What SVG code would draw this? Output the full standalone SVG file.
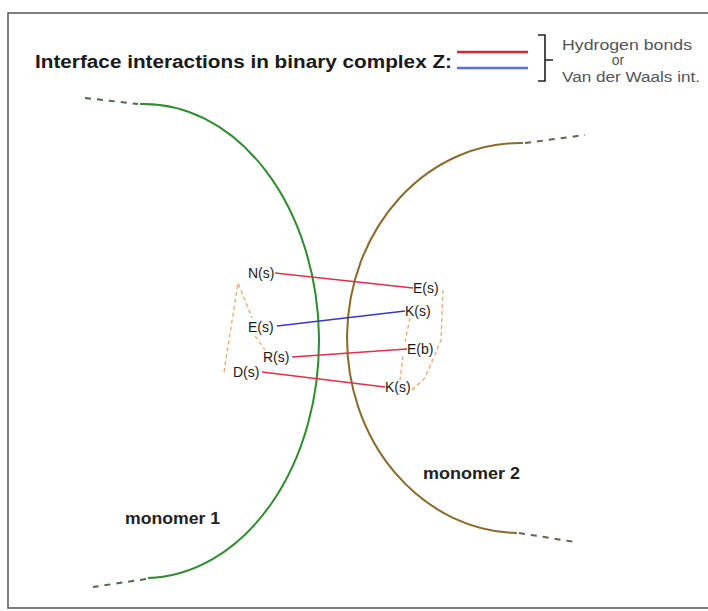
<svg xmlns="http://www.w3.org/2000/svg" width="708" height="611" viewBox="0 0 708 611">
<defs>
<style>
.title{font-family:"Liberation Sans",Arial,sans-serif;font-weight:bold;font-size:18px;fill:#1a1a1a}
.leg{font-family:"Liberation Sans",Arial,sans-serif;font-size:14px;fill:#555}
.lbl{font-family:"Liberation Sans",Arial,sans-serif;font-size:14px;fill:#1a1a1a}
.mono{font-family:"Liberation Sans",Arial,sans-serif;font-weight:bold;font-size:17px;fill:#222}
.m1{fill:none;stroke:#2e8b2e;stroke-width:2}
.m2{fill:none;stroke:#8b6a2a;stroke-width:2}
.m1d{fill:none;stroke:#4a6a4a;stroke-width:2;stroke-dasharray:6,6}
.m2d{fill:none;stroke:#6a6050;stroke-width:2;stroke-dasharray:6,6}
.hb{stroke:#e03048;stroke-width:1.6;fill:none}
.vdw{stroke:#3838c8;stroke-width:1.6;fill:none}
.ctc{stroke:#f0a060;stroke-width:1.2;stroke-dasharray:4,3;fill:none}
</style>
</defs>
<rect x="0" y="0" width="708" height="611" fill="#fff"/>
<rect x="8" y="13" width="720" height="595" fill="none" stroke="#555" stroke-width="1.5"/>

<g id="legend">
<text class="title" x="35" y="68" textLength="417" lengthAdjust="spacingAndGlyphs">Interface interactions in binary complex Z:</text>
<line x1="457" y1="52" x2="528" y2="52" stroke="#d02838" stroke-width="2.5"/>
<line x1="457" y1="68" x2="528" y2="68" stroke="#5a6ee0" stroke-width="2.5"/>
<path d="M538,35 H545 V81 H538 M545,60 H553" fill="none" stroke="#222" stroke-width="1.6"/>
<text class="leg" x="562" y="50" textLength="130" lengthAdjust="spacingAndGlyphs">Hydrogen bonds</text>
<text class="leg" x="618" y="65" text-anchor="middle" font-size="11">or</text>
<text class="leg" x="562" y="82" textLength="138" lengthAdjust="spacingAndGlyphs">Van der Waals int.</text>
</g>

<g id="monomer1">
<path class="m1d" d="M85,98 L138,104"/>
<path class="m1" d="M140,104 A175,237 0 0 1 148,578"/>
<path class="m1d" d="M146,579 L93,587"/>
<text class="mono" x="125" y="524" textLength="95" lengthAdjust="spacingAndGlyphs">monomer 1</text>
</g>

<g id="monomer2">
<path class="m2d" d="M525,143 L585,135"/>
<path class="m2" d="M523,143 A173,195 0 0 0 517,533"/>
<path class="m2d" d="M519,533 L575,542"/>
<text class="mono" x="423" y="479" textLength="97" lengthAdjust="spacingAndGlyphs">monomer 2</text>
</g>

<g id="contacts">
<polyline class="ctc" points="224,372 238,283 252,318"/>
<line class="ctc" x1="255" y1="336" x2="265" y2="350"/>
<polyline class="ctc" points="443,290 441,340 425,378 412,390"/>
<line class="ctc" x1="410" y1="318" x2="405" y2="342"/>
<line class="ctc" x1="403" y1="356" x2="400" y2="380"/>
</g>

<g id="connectors">
<line class="hb" x1="275" y1="273" x2="413" y2="288"/>
<line class="vdw" x1="277" y1="326" x2="405" y2="311"/>
<line class="hb" x1="292" y1="357" x2="407" y2="349"/>
<line class="hb" x1="262" y1="372" x2="385" y2="387" stroke="#b83040"/>
</g>

<g id="N_s"><text class="lbl" x="248" y="278">N(s)</text></g>
<g id="E_s_left"><text class="lbl" x="248" y="332">E(s)</text></g>
<g id="R_s"><text class="lbl" x="263" y="362">R(s)</text></g>
<g id="D_s"><text class="lbl" x="233" y="377">D(s)</text></g>
<g id="E_s_right"><text class="lbl" x="413" y="293">E(s)</text></g>
<g id="K_s_top"><text class="lbl" x="405" y="316">K(s)</text></g>
<g id="E_b"><text class="lbl" x="407" y="354">E(b)</text></g>
<g id="K_s_bottom"><text class="lbl" x="385" y="392">K(s)</text></g>
</svg>
